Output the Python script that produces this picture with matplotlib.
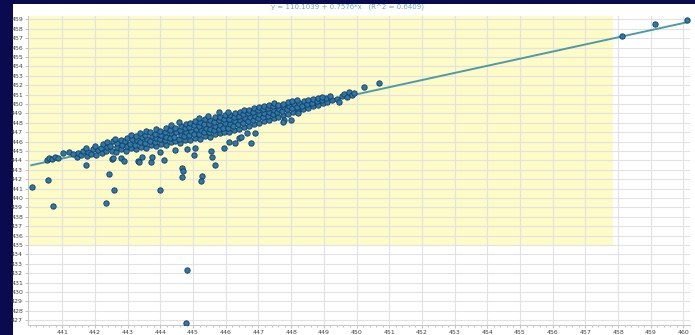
"""Scatter of paired readings with a least-squares fit line and a tolerance band."""

from matplotlib import pyplot as plt
from matplotlib.patches import Rectangle
import numpy as np

# Fit coefficients printed in the title
intercept = 110.1039
slope = 0.7576
r_squared = 0.6409

# Tolerance window drawn as the yellow band
band_x = [439.0, 457.85]
band_y = [435.0, 460.0]

# Dense core of the cloud, one row per x column
core_x = [
    441.45, 441.49,
    441.58, 441.63,
    441.74, 441.78, 441.71,
    441.88, 441.93,
    442.04, 442.08, 442.01,
    442.21, 442.17, 442.24,
    442.33, 442.38, 442.36,
    442.52, 442.47, 442.55,
    442.63, 442.68, 442.66, 442.61,
    442.79, 442.83, 442.78,
    442.94, 442.97, 442.92, 442.98,
    443.11, 443.08, 443.13, 443.09,
    443.26, 443.23, 443.28, 443.24,
    443.41, 443.38, 443.43, 443.39,
    443.56, 443.53, 443.58, 443.54, 443.57,
    443.71, 443.68, 443.73, 443.69,
    443.86, 443.83, 443.88, 443.84, 443.87,
    444.01, 443.98, 444.03, 443.99,
    444.16, 444.13, 444.18, 444.14, 444.17,
    444.31, 444.28, 444.33, 444.29, 444.32,
    444.46, 444.43, 444.48, 444.44,
    444.61, 444.58, 444.63, 444.59, 444.62, 444.57,
    444.76, 444.73, 444.78, 444.74, 444.77,
    444.91, 444.88, 444.93, 444.89, 444.92,
    445.06, 445.03, 445.08, 445.04, 445.07,
    445.21, 445.18, 445.23, 445.19, 445.22, 445.17,
    445.36, 445.33, 445.38, 445.34, 445.37,
    445.51, 445.48, 445.53, 445.49, 445.52, 445.47,
    445.66, 445.63, 445.68, 445.64, 445.67,
    445.81, 445.78, 445.83, 445.79, 445.82,
    445.96, 445.93, 445.98, 445.94, 445.97,
    446.11, 446.08, 446.13, 446.09, 446.12, 446.07,
    446.26, 446.23, 446.28, 446.24, 446.27,
    446.41, 446.38, 446.43, 446.39, 446.42,
    446.56, 446.53, 446.58, 446.54, 446.57,
    446.71, 446.68, 446.73, 446.69, 446.72,
    446.86, 446.83, 446.88, 446.84, 446.87,
    447.01, 446.98, 447.03, 446.99, 447.02,
    447.16, 447.13, 447.18, 447.14, 447.17,
    447.31, 447.28, 447.33, 447.29, 447.32,
    447.46, 447.43, 447.48, 447.44, 447.47,
    447.61, 447.58, 447.63, 447.59,
    447.76, 447.73, 447.78, 447.74,
    447.91, 447.88, 447.93, 447.89,
    448.06, 448.03, 448.08, 448.04,
    448.21, 448.18, 448.23, 448.19,
    448.36, 448.33, 448.38,
    448.51, 448.48, 448.53,
    448.66, 448.63, 448.68,
    448.81, 448.78, 448.83,
    448.96, 448.93,
    449.11, 449.08,
    449.26,
]
core_y = [
    444.35, 444.82,
    444.57, 445.03,
    444.43, 444.92, 445.33,
    444.72, 445.18,
    444.62, 445.07, 445.52,
    444.83, 445.31, 445.78,
    444.97, 445.44, 445.96,
    445.02, 445.57, 446.08,
    444.88, 445.41, 445.87, 446.28,
    445.17, 445.63, 446.16,
    445.03, 445.52, 446.02, 446.43,
    445.32, 445.78, 446.31, 446.73,
    445.18, 445.67, 446.12, 446.57,
    445.47, 445.93, 446.46, 446.88,
    445.33, 445.82, 446.24, 446.72, 447.13,
    445.62, 446.08, 446.57, 446.98,
    445.48, 445.97, 446.41, 446.83, 447.32,
    445.77, 446.23, 446.72, 447.14,
    445.63, 446.12, 446.53, 447.02, 447.48,
    445.92, 446.38, 446.87, 447.28, 447.77,
    446.02, 446.48, 446.97, 447.41,
    445.87, 446.32, 446.73, 447.22, 447.63, 448.07,
    446.12, 446.58, 447.07, 447.48, 447.92,
    446.18, 446.67, 447.08, 447.57, 447.98,
    446.42, 446.83, 447.32, 447.73, 448.22,
    446.28, 446.77, 447.18, 447.67, 448.08, 448.47,
    446.57, 446.98, 447.47, 447.88, 448.37,
    446.48, 446.97, 447.38, 447.87, 448.28, 448.72,
    446.77, 447.18, 447.67, 448.08, 448.57,
    446.88, 447.37, 447.78, 448.27, 448.63,
    447.07, 447.48, 447.97, 448.38, 448.87,
    446.98, 447.47, 447.88, 448.37, 448.78, 449.12,
    447.27, 447.68, 448.17, 448.58, 449.02,
    447.38, 447.87, 448.28, 448.77, 449.13,
    447.57, 447.98, 448.47, 448.88, 449.32,
    447.68, 448.17, 448.58, 449.07, 449.38,
    447.87, 448.28, 448.77, 449.18, 449.57,
    447.98, 448.47, 448.88, 449.32, 449.68,
    448.22, 448.63, 449.07, 449.43, 449.82,
    448.28, 448.77, 449.13, 449.57, 449.88,
    448.52, 448.93, 449.37, 449.73, 450.07,
    448.63, 449.12, 449.48, 449.92,
    448.87, 449.23, 449.67, 450.03,
    448.93, 449.42, 449.78, 450.22,
    449.17, 449.53, 449.97, 450.28,
    449.28, 449.72, 450.08, 450.42,
    449.47, 449.83, 450.27,
    449.58, 450.02, 450.38,
    449.77, 450.13, 450.52,
    449.88, 450.32, 450.58,
    450.07, 450.43,
    450.18, 450.62,
    450.37,
]

# Sparse points trailing to the left of the cloud
lead_x = [440.52, 440.60, 440.68, 440.78, 440.86, 441.03, 441.20, 441.33]
lead_y = [444.05, 444.30, 444.12, 444.38, 444.22, 444.78, 444.88, 444.70]

# Sparse points above the cloud toward 450-452
tail_x = [448.95, 449.20, 449.40, 449.45, 449.55, 449.62, 449.70, 449.78,
          449.85, 449.93, 450.24, 450.70]
tail_y = [450.75, 450.85, 450.55, 450.20, 450.85, 451.10, 450.75, 451.30,
          450.95, 451.15, 451.80, 452.20]

# Scattered readings below the main cloud
low_x = [440.06, 440.55, 440.70, 441.73, 442.33, 442.42, 442.58, 444.00,
         444.67, 444.70, 444.67, 445.27, 445.24, 445.67, 446.76, 444.82,
         444.79, 444.80, 445.06, 445.55, 445.58, 445.94, 446.10, 446.40,
         446.48, 446.64, 446.88, 447.79, 447.76, 445.80, 443.33, 443.45,
         443.70, 443.73, 444.12, 444.00, 442.79, 442.90, 442.52, 442.55,
         443.36, 444.45, 445.03, 446.27, 448.00, 448.20]
low_y = [441.20, 441.95, 439.20, 443.55, 439.50, 442.60, 440.90, 440.80,
         443.20, 442.85, 442.20, 442.30, 441.80, 443.50, 445.80, 432.40,
         426.70, 445.20, 445.30, 445.00, 444.40, 445.30, 445.95, 446.40,
         446.50, 446.90, 446.90, 448.26, 448.05, 449.10, 443.95, 444.40,
         443.85, 444.40, 444.05, 444.90, 444.26, 443.95, 444.16, 444.26,
         443.85, 445.10, 444.60, 445.80, 448.26, 449.00]

# Three high readings on the far right
high_x = [458.12, 459.12, 460.10]
high_y = [457.25, 458.55, 458.95]

x_lim = (439.95, 460.2)
y_lim = (426.5, 459.35)

fig = plt.figure(figsize=(6.95, 3.35), dpi=100, facecolor="#0a0a4e")
# White panel behind the plot
panel = Rectangle((13 / 695, 0), 1, 1 - 4 / 335, transform=fig.transFigure,
                  facecolor="white", edgecolor="none", zorder=-10)
fig.patches.append(panel)
ax = fig.add_axes([28 / 695, 10 / 335, 662 / 695, 309 / 335], zorder=1)
ax.set_facecolor("white")

ax.add_patch(Rectangle((band_x[0], band_y[0]), band_x[1] - band_x[0], band_y[1] - band_y[0],
                       facecolor="#fdfbc6", edgecolor="none", zorder=0))

fit_x = np.array([x_lim[0] + 0.1, high_x[-1]])
ax.plot(fit_x, intercept + slope * fit_x, color="#4f9aaa", lw=1.4, zorder=2)

all_x = core_x + lead_x + tail_x + low_x + high_x
all_y = core_y + lead_y + tail_y + low_y + high_y
ax.scatter(all_x, all_y, s=15, facecolor="#2b78ad", edgecolor="#173a58", linewidth=0.6,
           zorder=3)

ax.set_xlim(*x_lim)
ax.set_ylim(*y_lim)
ax.set_xticks(np.arange(441, 461))
ax.set_xticks(np.arange(440, 460.2, 0.2), minor=True)
ax.set_yticks(np.arange(427, 460))
ax.grid(True, which="major", color="#e2e2e2", lw=0.8)
ax.set_axisbelow(True)

ax.tick_params(which="major", labelsize=4.5, length=2.5, width=0.5, color="#aaaaaa",
               labelcolor="#444444", pad=1.0)
ax.tick_params(which="minor", length=1.5, width=0.5, color="#aaaaaa")
ax.tick_params(axis="y", which="minor", left=False)
for side in ["left", "bottom"]:
    ax.spines[side].set_color("#c8c8c8")
    ax.spines[side].set_linewidth(0.8)
for side in ["top", "right"]:
    ax.spines[side].set_visible(False)

fig.text(0.5, 1 - 7 / 335, f"y = {intercept} + {slope}*x   (R^2 = {r_squared})",
         ha="center", va="center", fontsize=5, color="#6aa8c4", zorder=2)

fig.savefig("out.png", dpi=100, facecolor=fig.get_facecolor())
